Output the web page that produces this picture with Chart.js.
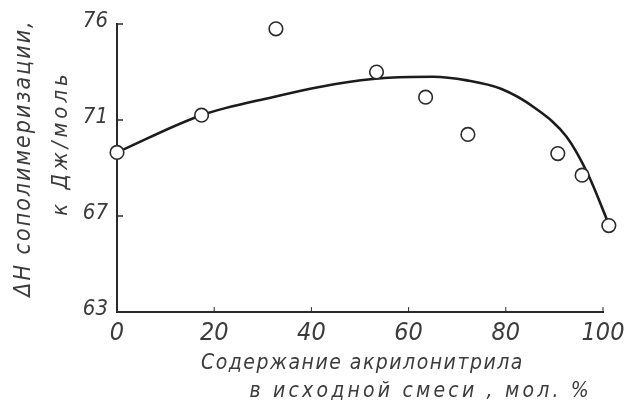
<!DOCTYPE html>
<html>
<head>
<meta charset="utf-8">
<script src="https://cdn.jsdelivr.net/npm/chart.js@4/dist/chart.umd.min.js"></script>
<style>
  html, body { margin: 0; padding: 0; background: #ffffff; }
  #wrap { width: 642px; height: 409px; }
</style>
</head>
<body>
<div id="wrap"><canvas id="c" width="642" height="409"></canvas></div>
<script>
// Experimental points: acrylonitrile content (mol %) vs ΔH (kJ/mol)
const pointX = [0, 17.4, 32.7, 53.4, 63.5, 72.2, 90.7, 95.7, 101.2];
const pointY = [69.65, 71.2, 74.8, 73.0, 71.95, 70.4, 69.6, 68.7, 66.6];

// Smoothed curve drawn through the data
const curveX = [0, 17.4, 32, 45, 55, 65, 72, 79, 86, 92.5, 97, 101.2];
const curveY = [69.65, 71.2, 71.95, 72.5, 72.75, 72.8, 72.65, 72.3, 71.5, 70.3, 68.7, 66.65];

// Axis ticks and labels
const xTicks = [0, 20, 40, 60, 80, 100];
const yTicks = [63, 67, 71, 75];
const yTickLabels = ['63', '67', '71', '76'];

const xTitle = ['Содержание акрилонитрила', 'в исходной смеси , мол. %'];
const yTitle = ['ΔН сополимеризации,', 'к Дж/моль'];

const INK = '#2b2b2b';
const LABEL = '#3c3c3c';
const FONT = "'Liberation Sans Narrow', 'DejaVu Sans Condensed', sans-serif";

const toXY = (xs, ys) => xs.map((x, i) => ({ x: x, y: ys[i] }));

const decor = {
  id: 'decor',
  afterDraw(chart) {
    const ctx = chart.ctx;
    const xs = chart.scales.x, ys = chart.scales.y;
    const ca = chart.chartArea;
    ctx.save();
    ctx.strokeStyle = INK;
    ctx.lineWidth = 1.5;
    // inward ticks on y axis
    yTicks.forEach(v => {
      if (v === yTicks[0]) return;
      const py = ys.getPixelForValue(v);
      ctx.beginPath();
      ctx.moveTo(ca.left, py);
      ctx.lineTo(ca.left + 6, py);
      ctx.stroke();
    });
    // inward ticks on x axis
    ctx.lineWidth = 1;
    xTicks.forEach(v => {
      if (v === 0) return;
      const px = xs.getPixelForValue(v);
      ctx.beginPath();
      ctx.moveTo(px, ca.bottom);
      ctx.lineTo(px, ca.bottom - 5);
      ctx.stroke();
    });
    // axis titles
    ctx.fillStyle = LABEL;
    ctx.textAlign = 'center';
    ctx.textBaseline = 'middle';
    ctx.font = "italic 21px " + FONT;
    ctx.letterSpacing = '1.5px';
    ctx.fillText(xTitle[0], xs.getPixelForValue(50.5), 364);
    ctx.letterSpacing = '3.2px';
    ctx.fillText(xTitle[1], xs.getPixelForValue(62.5), 392);
    // y title (rotated)
    ctx.save();
    ctx.translate(24, 158);
    ctx.rotate(-Math.PI / 2);
    ctx.letterSpacing = '2px';
    ctx.font = "italic 23px " + FONT;
    ctx.fillText(yTitle[0], 0, 0);
    ctx.restore();
    ctx.save();
    ctx.translate(61, 143);
    ctx.rotate(-Math.PI / 2);
    ctx.letterSpacing = '4px';
    ctx.font = "italic 22px " + FONT;
    ctx.fillText(yTitle[1], 0, 0);
    ctx.restore();
    ctx.restore();
  }
};

new Chart(document.getElementById('c'), {
  type: 'scatter',
  data: {
    datasets: [
      {
        label: 'points',
        data: toXY(pointX, pointY),
        showLine: false,
        pointRadius: 6.8,
        pointBackgroundColor: '#ffffff',
        pointBorderColor: INK,
        pointBorderWidth: 1.6,
        clip: false,
        order: 0
      },
      {
        label: 'curve',
        data: toXY(curveX, curveY),
        showLine: true,
        pointRadius: 0,
        borderColor: '#1c1c1c',
        borderWidth: 2.6,
        cubicInterpolationMode: 'monotone',
        fill: false,
        clip: false,
        order: 1
      }
    ]
  },
  options: {
    responsive: false,
    devicePixelRatio: 1,
    animation: false,
    layout: { padding: { top: 24, right: 39, left: 0, bottom: 0 } },
    plugins: { legend: { display: false }, tooltip: { enabled: false } },
    scales: {
      x: {
        type: 'linear',
        min: 0,
        max: 100,
        afterFit: s => { s.height = 97; },
        afterBuildTicks: s => { s.ticks = xTicks.map(v => ({ value: v })); },
        grid: { display: false, drawTicks: false },
        border: { display: true, color: INK, width: 2 },
        ticks: {
          padding: 6,
          color: LABEL,
          font: { family: FONT, style: 'italic', size: 25 },
          callback: v => String(v)
        }
      },
      y: {
        type: 'linear',
        min: 63,
        max: 75,
        afterFit: s => { s.width = 117; },
        afterBuildTicks: s => { s.ticks = yTicks.map(v => ({ value: v })); },
        grid: { display: false, drawTicks: false },
        border: { display: true, color: INK, width: 2 },
        ticks: {
          padding: 9,
          color: LABEL,
          labelOffset: -3,
          font: { family: FONT, style: 'italic', size: 22 },
          callback: (v, i) => yTickLabels[i]
        }
      }
    }
  },
  plugins: [decor]
});
</script>
</body>
</html>
